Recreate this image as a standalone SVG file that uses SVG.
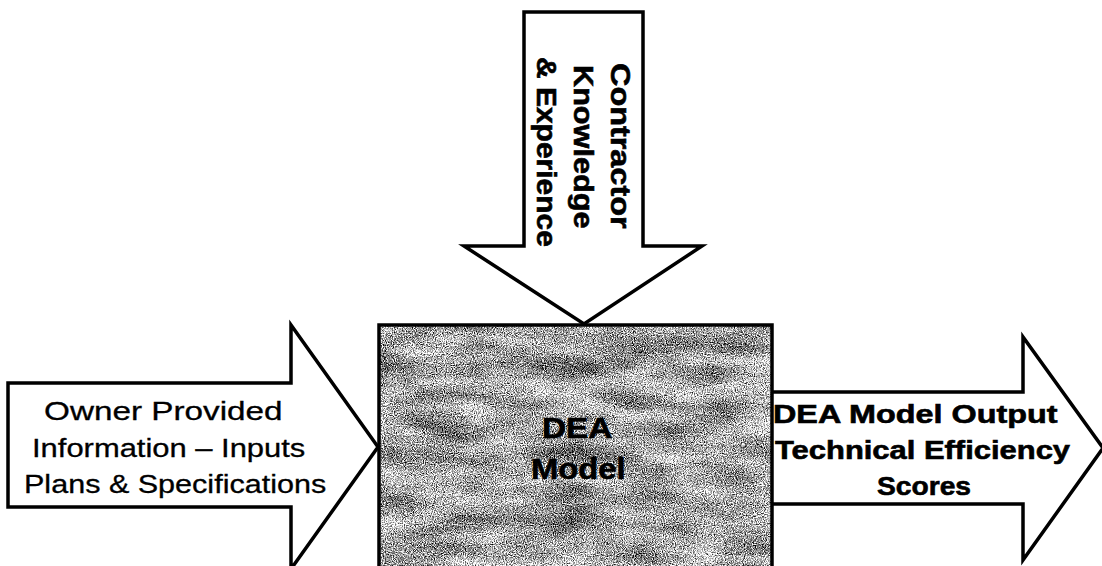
<svg xmlns="http://www.w3.org/2000/svg" width="1102" height="566" viewBox="0 0 1102 566">
  <style>
    .arrow { fill: #ffffff; stroke: #000000; stroke-width: 3.5; stroke-linejoin: miter; }
    .box { fill: none; stroke: #000000; stroke-width: 3.5; }
    .lbl { font-family: "Liberation Sans", Arial, sans-serif; font-size: 26px; fill: #000000; stroke: #000000; stroke-width: 0.3; }
    .bold { font-weight: bold; stroke-width: 0.6; }
  </style>
  <defs>
    <!-- grainy grey stone texture for the model block -->
    <filter id="grain" x="0" y="0" width="1" height="1" filterUnits="objectBoundingBox" color-interpolation-filters="sRGB">
      <feTurbulence type="fractalNoise" baseFrequency="0.9" numOctaves="2" seed="4" result="fineRaw"/>
      <feColorMatrix in="fineRaw" type="matrix" values="1 0 0 0 0  1 0 0 0 0  1 0 0 0 0  0 0 0 0 1" result="fine"/>
      <feTurbulence type="fractalNoise" baseFrequency="0.015 0.045" numOctaves="3" seed="11" result="coarseRaw"/>
      <feColorMatrix in="coarseRaw" type="matrix" values="1 0 0 0 0  1 0 0 0 0  1 0 0 0 0  0 0 0 0 1" result="coarse"/>
      <feComposite in="fine" in2="coarse" operator="arithmetic" k1="0" k2="2.2" k3="0.8" k4="-0.86" result="mix"/>
      <feColorMatrix in="mix" type="matrix" values="1 0 0 0 0  1 0 0 0 0  1 0 0 0 0  0 0 0 0 1"/>
    </filter>
  </defs>

  <!-- flows into and out of the model -->
  <g id="connectors">
    <g id="input-owner">
      <polygon class="arrow" points="8,383 291,383 291,325 378,447 291,569 291,507 8,507"/>
      <text class="lbl" transform="translate(44,420) scale(1.28,1)">Owner Provided</text>
      <text class="lbl" transform="translate(32,457) scale(1.19,1)">Information – Inputs</text>
      <text class="lbl" transform="translate(24,493) scale(1.175,1)">Plans &amp; Specifications</text>
    </g>

    <g id="input-contractor">
      <polygon class="arrow" points="524,12 643,12 643,246 702,246 584,324 464,246 524,246"/>
      <g class="lbl bold" style="font-size:27px">
        <text transform="translate(611,63) rotate(90) scale(1.2,1)">Contractor</text>
        <text transform="translate(574,65) rotate(90) scale(1.135,1)">Knowledge</text>
        <text transform="translate(537,57) rotate(90) scale(1.11,1)">&amp; Experience</text>
      </g>
    </g>

    <g id="output-scores">
      <polygon class="arrow" points="760,392 1023,392 1023,337 1103,448 1023,560 1023,504 760,504"/>
      <text class="lbl bold" transform="translate(773,423) scale(1.245,1)">DEA Model Output</text>
      <text class="lbl bold" transform="translate(775,459) scale(1.19,1)">Technical Efficiency</text>
      <text class="lbl bold" transform="translate(877,495) scale(1.085,1)">Scores</text>
    </g>
  </g>

  <!-- the model block -->
  <g id="dea-model">
    <rect x="379" y="325" width="393" height="250" fill="#999999" filter="url(#grain)"/>
    <rect class="box" x="379" y="325" width="393" height="250"/>
    <text class="lbl bold" style="font-size:29px" transform="translate(542,438) scale(1.15,1)">DEA</text>
    <text class="lbl bold" style="font-size:29px" transform="translate(531,479) scale(1.13,1)">Model</text>
  </g>
</svg>
